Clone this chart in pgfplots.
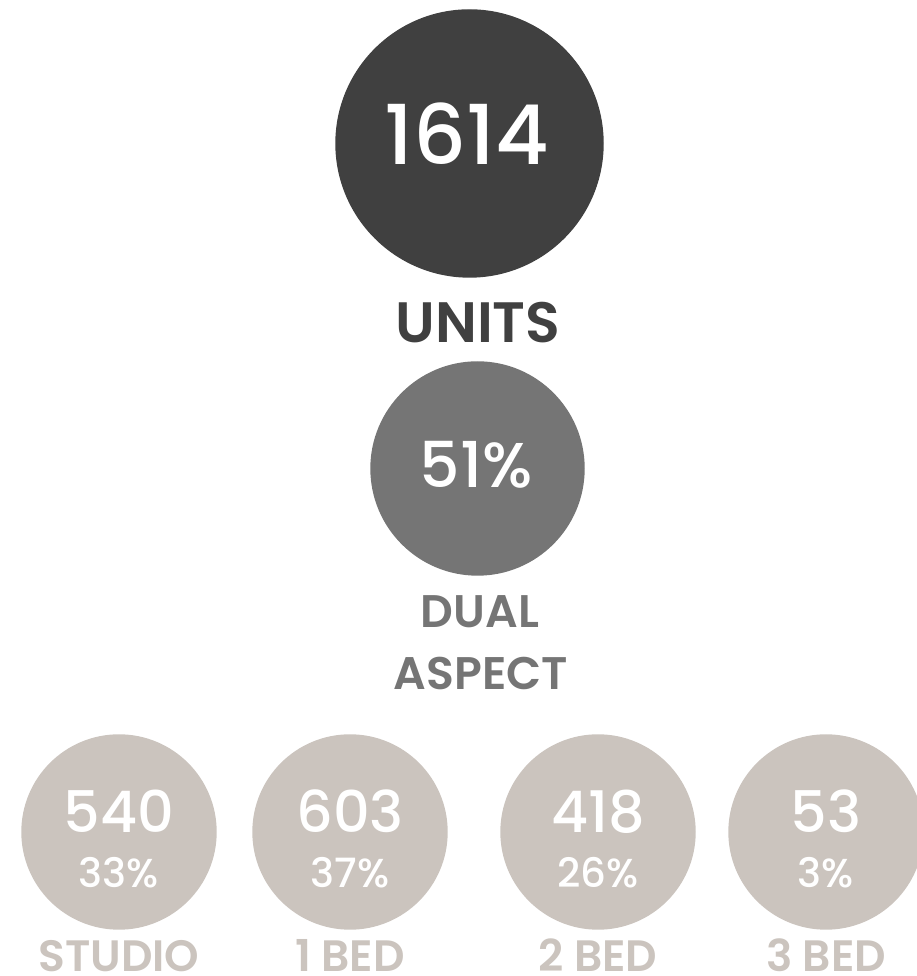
\documentclass[border=0pt]{standalone}
\usepackage{pgfplots}
\pgfplotsset{compat=1.18}
\usepackage{fontspec}
\setmainfont{Poppins}
\newfontfamily\psemi{Poppins SemiBold}
\newfontfamily\pmed{Poppins Medium}
\definecolor{cdark}{HTML}{404040}
\definecolor{cmid}{HTML}{757575}
\definecolor{clight}{HTML}{CBC4BE}
\begin{document}
\begin{tikzpicture}
\begin{axis}[
  scale only axis, width=9.16cm, height=9.76cm,
  xmin=0, xmax=916, ymin=0, ymax=976, y dir=reverse,
  hide axis, clip=false, clip marker paths=true, set layers,
]
% circles: total units, dual aspect, unit mix
\addplot[only marks, mark=*, mark size=13.35mm, color=cdark, mark options={draw=cdark, fill=cdark}]
  coordinates {(469.5,143.5)};
\addplot[only marks, mark=*, mark size=10.65mm, color=cmid, mark options={draw=cmid, fill=cmid}]
  coordinates {(477.5,468.5)};
\addplot[only marks, mark=*, mark size=9.7mm, color=clight, mark options={draw=clight, fill=clight}]
  coordinates {(119,832) (350,832) (598,832) (826,832)};

\begin{pgfonlayer}{axis foreground}
\node[anchor=base, text=white, font=\pmed\fontsize{23.5}{26}\selectfont] at (axis cs:467,165) {1614};
\node[anchor=base, text=cdark, font=\psemi\fontsize{16.2}{20}\selectfont] at (axis cs:478,343) {UNITS};
\node[anchor=base, text=white, font=\pmed\fontsize{18}{21}\selectfont] at (axis cs:476,488) {51\%};
\node[anchor=base, text=cmid, font=\psemi\fontsize{13}{16}\selectfont] at (axis cs:480,628) {DUAL};
\node[anchor=base, text=cmid, font=\psemi\fontsize{13}{16}\selectfont] at (axis cs:481,690) {ASPECT};

\foreach \x/\n/\p/\l in {119/540/33/STUDIO, 350/603/37/1 BED, 598/418/26/2 BED, 826/53/3/3 BED}{
  \edef\temp{\noexpand\node[anchor=base, text=white, font=\noexpand\pmed\noexpand\fontsize{16.3}{19}\noexpand\selectfont] at (axis cs:\x,833) {\n};
    \noexpand\node[anchor=base, text=white, font=\noexpand\pmed\noexpand\fontsize{11.5}{13}\noexpand\selectfont] at (axis cs:\x,888) {\p\noexpand\%};
    \noexpand\node[anchor=base, inner sep=0pt, text depth=0pt, text=clight, font=\noexpand\psemi\noexpand\fontsize{12.5}{15}\noexpand\selectfont] at (axis cs:\x,971) {\l};}
  \temp
}
\end{pgfonlayer}
\end{axis}
\pgfresetboundingbox
\path (current axis.south west) rectangle (current axis.north east);
\end{tikzpicture}
\end{document}
